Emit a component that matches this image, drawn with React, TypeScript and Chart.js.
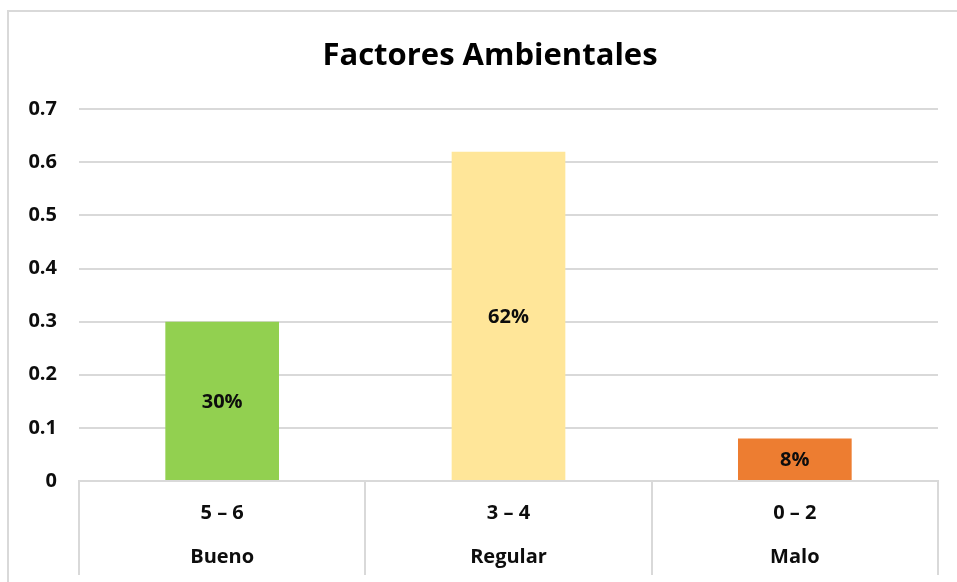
import React, { useEffect, useRef } from "react";
import { Chart, registerables } from "chart.js";

Chart.register(...registerables);

const categories: string[][] = [
  ["5 – 6", "Bueno"],
  ["3 – 4", "Regular"],
  ["0 – 2", "Malo"],
];
const values: number[] = [0.3, 0.62, 0.08];
const valueLabels: string[] = ["30%", "62%", "8%"];
const barColors: string[] = ["#92D050", "#FFE699", "#ED7D31"];
const chartTitle = "Factores Ambientales";

const FONT = "'Open Sans', Lato, sans-serif";

const barLabelPlugin = {
  id: "barLabels",
  afterDatasetsDraw(chart: any) {
    const ctx = chart.ctx;
    const meta = chart.getDatasetMeta(0);
    ctx.save();
    ctx.font = `bold 20px ${FONT}`;
    ctx.fillStyle = "#0d0d0d";
    ctx.textAlign = "center";
    ctx.textBaseline = "middle";
    meta.data.forEach((el: any, i: number) => {
      const p = el.getCenterPoint();
      ctx.fillText(valueLabels[i], p.x, p.y + 1);
    });
    ctx.restore();
  },
};

export default function App() {
  const ref = useRef<HTMLCanvasElement | null>(null);
  useEffect(() => {
    document.body.style.margin = "0";
    const chart = new Chart(ref.current as HTMLCanvasElement, {
      type: "bar",
      data: {
        labels: categories,
        datasets: [
          {
            data: values,
            backgroundColor: barColors,
            borderWidth: 0,
            categoryPercentage: 1,
            barPercentage: 0.397,
            yAxisID: "y",
          },
        ],
      },
      options: {
        animation: false,
        responsive: false,
        layout: { padding: 0 },
        plugins: {
          legend: { display: false },
          tooltip: { enabled: false },
          title: {
            display: true,
            text: chartTitle,
            color: "#000000",
            font: { family: FONT, size: 31, weight: "bold", lineHeight: 1.2 },
            padding: { top: 26, bottom: 34 },
          },
        },
        scales: {
          x: {
            afterFit: (s: any) => {
              s.height = 101;
            },
            border: { display: true, color: "#d9d9d9", width: 2 },
            grid: {
              offset: true,
              drawOnChartArea: false,
              drawTicks: true,
              tickLength: 94,
              color: "#d9d9d9",
              lineWidth: 2,
            },
            ticks: {
              color: "#0d0d0d",
              padding: -84,
              maxRotation: 0,
              font: { family: FONT, size: 20, weight: "bold", lineHeight: "44px" as any },
            },
          },
          y: {
            min: 0,
            max: 0.7,
            afterFit: (s: any) => {
              s.width = 70;
            },
            border: { display: false },
            grid: { color: "#d9d9d9", lineWidth: 2, drawTicks: false },
            ticks: {
              stepSize: 0.1,
              padding: 22,
              color: "#0d0d0d",
              font: { family: FONT, size: 20, weight: "bold" },
              callback: (v: any) => (Number(v) === 0 ? "0" : Number(v).toFixed(1)),
            },
          },
          yRight: {
            position: "right",
            min: 0,
            max: 0.7,
            afterFit: (s: any) => {
              s.width = 33;
            },
            border: { display: false },
            grid: { display: false },
            ticks: { display: false },
          },
        },
      },
      plugins: [barLabelPlugin],
    });
    return () => chart.destroy();
  }, []);

  return (
    <div
      style={{
        position: "absolute",
        left: 0,
        top: 0,
        width: 957,
        height: 582,
        overflow: "hidden",
        background: "#ffffff",
      }}
    >
      <div
        style={{
          position: "absolute",
          left: 7,
          top: 10,
          width: 966,
          height: 580,
          borderLeft: "2px solid #d9d9d9",
          borderTop: "2px solid #d9d9d9",
          borderRight: "2px solid #d9d9d9",
          boxSizing: "border-box",
        }}
      >
        <canvas ref={ref} width={962} height={570} style={{ display: "block" }} />
      </div>
    </div>
  );
}
